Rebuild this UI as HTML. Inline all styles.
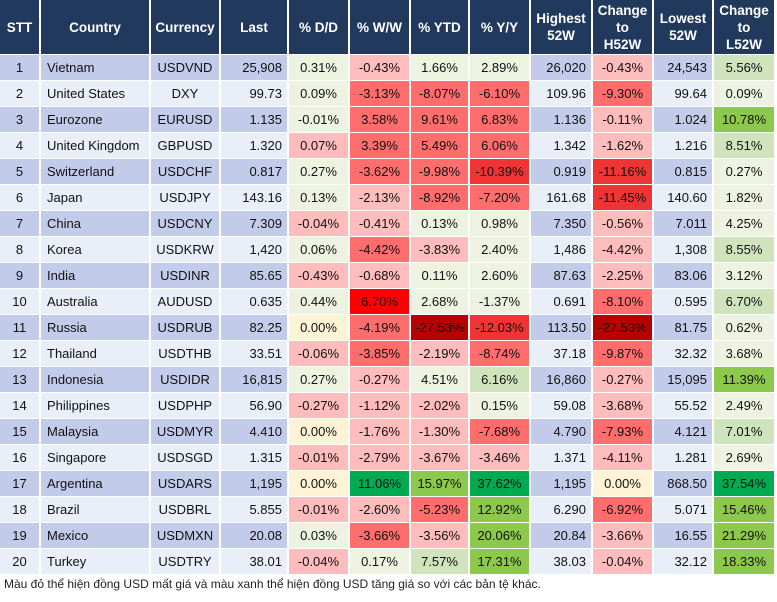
<!DOCTYPE html>
<html><head><meta charset="utf-8"><style>
body{margin:0;width:777px;height:602px;background:#fff;position:relative;overflow:hidden;font-family:"Liberation Sans",Arial,sans-serif}
.c{position:absolute;box-sizing:border-box;font-size:13px;color:#111;display:flex;align-items:center;white-space:nowrap}
.h{background:#22395e;color:#fff;font-weight:bold;justify-content:center;text-align:center;line-height:17px;font-size:13.5px}
.L{justify-content:flex-start;padding-left:6px}.C{justify-content:center}.R{justify-content:flex-end;padding-right:5px}
.o{background:#c3cbea}.e{background:#e9eff8}
.n{background:#eef2e1}.z{background:#fff3d6}
.p1{background:#ffbcbc}.p2{background:#ff6d6d}.p3{background:#f03434}.p4{background:#ff0000}.p5{background:#b80000}
.g1{background:#cfe3bd}.g2{background:#8cc84c}.g3{background:#00aa50}
#foot{position:absolute;left:4px;top:577px;font-size:12px;color:#222}
</style></head><body>
<div id="t"></div>
<div id="foot">Màu đỏ thể hiện đồng USD mất giá và màu xanh thể hiện đồng USD tăng giá so với các bản tệ khác.</div>
<script>
const headers=["STT","Country","Currency","Last","% D/D","% W/W","% YTD","% Y/Y","Highest<br>52W","Change<br>to<br>H52W","Lowest<br>52W","Change<br>to<br>L52W"];
const countries=["Vietnam","United States","Eurozone","United Kingdom","Switzerland","Japan","China","Korea","India","Australia","Russia","Thailand","Indonesia","Philippines","Malaysia","Singapore","Argentina","Brazil","Mexico","Turkey"];
const currencies=["USDVND","DXY","EURUSD","GBPUSD","USDCHF","USDJPY","USDCNY","USDKRW","USDINR","AUDUSD","USDRUB","USDTHB","USDIDR","USDPHP","USDMYR","USDSGD","USDARS","USDBRL","USDMXN","USDTRY"];
const last=["25,908","99.73","1.135","1.320","0.817","143.16","7.309","1,420","85.65","0.635","82.25","33.51","16,815","56.90","4.410","1.315","1,195","5.855","20.08","38.01"];
const dd=["0.31%","0.09%","-0.01%","0.07%","0.27%","0.13%","-0.04%","0.06%","-0.43%","0.44%","0.00%","-0.06%","0.27%","-0.27%","0.00%","-0.01%","0.00%","-0.01%","0.03%","-0.04%"];
const ww=["-0.43%","-3.13%","3.58%","3.39%","-3.62%","-2.13%","-0.41%","-4.42%","-0.68%","6.70%","-4.19%","-3.85%","-0.27%","-1.12%","-1.76%","-2.79%","11.06%","-2.60%","-3.66%","0.17%"];
const ytd=["1.66%","-8.07%","9.61%","5.49%","-9.98%","-8.92%","0.13%","-3.83%","0.11%","2.68%","-27.53%","-2.19%","4.51%","-2.02%","-1.30%","-3.67%","15.97%","-5.23%","-3.56%","7.57%"];
const yy=["2.89%","-6.10%","6.83%","6.06%","-10.39%","-7.20%","0.98%","2.40%","2.60%","-1.37%","-12.03%","-8.74%","6.16%","0.15%","-7.68%","-3.46%","37.62%","12.92%","20.06%","17.31%"];
const hi=["26,020","109.96","1.136","1.342","0.919","161.68","7.350","1,486","87.63","0.691","113.50","37.18","16,860","59.08","4.790","1.371","1,195","6.290","20.84","38.03"];
const h52=["-0.43%","-9.30%","-0.11%","-1.62%","-11.16%","-11.45%","-0.56%","-4.42%","-2.25%","-8.10%","-27.53%","-9.87%","-0.27%","-3.68%","-7.93%","-4.11%","0.00%","-6.92%","-3.66%","-0.04%"];
const lo=["24,543","99.64","1.024","1.216","0.815","140.60","7.011","1,308","83.06","0.595","81.75","32.32","15,095","55.52","4.121","1.281","868.50","5.071","16.55","32.12"];
const l52=["5.56%","0.09%","10.78%","8.51%","0.27%","1.82%","4.25%","8.55%","3.12%","6.70%","0.62%","3.68%","11.39%","2.49%","7.01%","2.69%","37.54%","15.46%","21.29%","18.33%"];
const shades=["n p1 n n p1 g1","n p2 p2 p2 p2 n","n p2 p2 p2 p1 g2","p1 p2 p2 p2 p1 g1","n p2 p2 p3 p3 n","n p1 p2 p2 p3 n","p1 p1 n n p1 n","n p2 p1 n p1 g1","p1 p1 n n p1 n","n p4 n n p2 g1","z p2 p5 p3 p5 n","p1 p2 p1 p2 p2 n","n p1 n g1 p1 g2","p1 p1 p1 n p1 n","z p1 p1 p2 p2 g1","p1 p1 p1 p1 p1 n","z g3 g2 g3 z g3","p1 p1 p2 g2 p2 g2","n p2 p1 g2 p1 g2","p1 n g1 g2 p1 g2"];
const xs=[0,41,151,221,289,350,411,470,531,593,654,714,776];
const colNames=["stt","country","currency","last","pct-dd","pct-ww","pct-ytd","pct-yy","highest-52w","change-h52w","lowest-52w","change-l52w"];
const t=document.getElementById('t');
function cell(x,y,w,h,cls,html,name){const d=document.createElement('div');d.className='c '+cls;d.style.left=x+'px';d.style.top=y+'px';d.style.width=w+'px';d.style.height=h+'px';d.innerHTML=html;


t.appendChild(d);}
headers.forEach((h,i)=>cell(xs[i],0,xs[i+1]-xs[i]-2,54,'h',h,'header-'+colNames[i]));
for(let r=0;r<20;r++){
 const y=55+26*r,rc=r%2==0?'o':'e',sh=shades[r].split(' ');
 const vals=[String(r+1),countries[r],currencies[r],last[r],dd[r],ww[r],ytd[r],yy[r],hi[r],h52[r],lo[r],l52[r]];
 const al=['C','L','C','R','C','C','C','C','R','C','R','C'];
 const bg=[rc,rc,rc,rc,sh[0],sh[1],sh[2],sh[3],rc,sh[4],rc,sh[5]];
 vals.forEach((v,i)=>cell(xs[i],y,xs[i+1]-xs[i]-2,25,al[i]+' '+bg[i],v,'row'+(r+1)+'-'+colNames[i]));
}
</script>
</body></html>
